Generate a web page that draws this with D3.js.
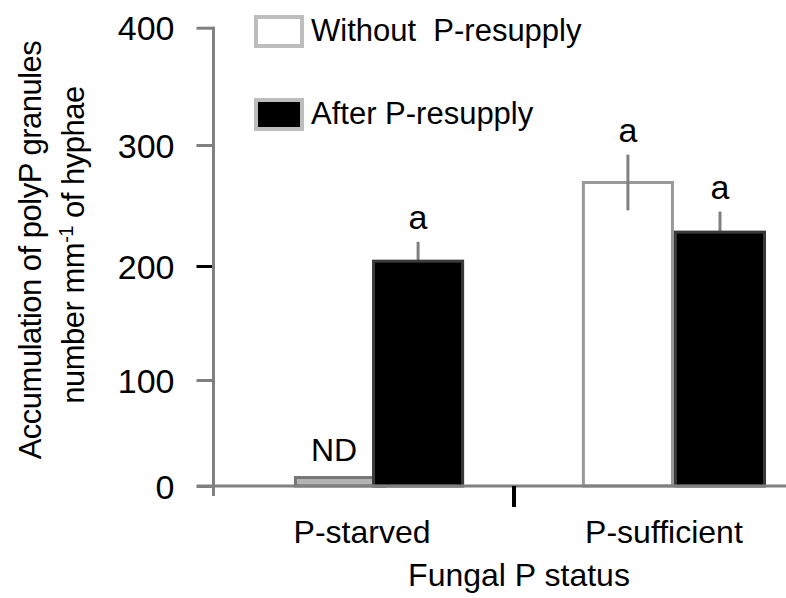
<!DOCTYPE html>
<html>
<head>
<meta charset="utf-8">
<script src="https://cdn.jsdelivr.net/npm/d3@7"></script>
<style>
  html, body { margin: 0; padding: 0; background: #fff; }
  svg { display: block; }
  text { font-family: Arial, "Liberation Sans", sans-serif; fill: #000; }
</style>
</head>
<body>
<svg id="chart" width="786" height="598"></svg>
<script>
// ---- data ----
const categories = ["P-starved", "P-sufficient"];
const seriesNames = ["Without  P-resupply", "After P-resupply"];
const withoutValues = [8, 269];      // P-starved is ND (not detected)
const withoutErrors = [0, 23];
const afterValues = [204, 228];
const afterErrors = [16, 17];
const withoutLabels = ["ND", "a"];
const afterLabels = ["a", "a"];
const yTicks = [0, 100, 200, 300, 400];
const xTitle = "Fungal P status";
const yTitle1 = "Accumulation of polyP granules";
const yTitle2 = "number mm";

const svg = d3.select("#chart");

// scanned figure has slightly uneven tick spacing -> polylinear scale
const y = d3.scaleLinear().domain(yTicks).range([486, 380, 266, 145, 27.7]);
const x0 = d3.scaleBand().domain(categories).range([214, 832]).paddingInner(0.39).paddingOuter(0.2185);
const x1 = d3.scaleBand().domain(seriesNames).range([0, x0.bandwidth()]).padding(0);

const axisGray = "#808080";

// ---- y axis ----
const yAxis = d3.axisLeft(y).tickValues(yTicks).tickSize(17).tickPadding(22).tickFormat(d3.format("d"));
const gy = svg.append("g").attr("transform", "translate(213.5,0)").call(yAxis);
gy.select(".domain").remove();
gy.selectAll(".tick line").attr("stroke", d => d === 200 ? "#000" : axisGray).attr("stroke-width", 3);
gy.selectAll(".tick text").attr("font-size", 34).attr("font-family", "Arial, 'Liberation Sans', sans-serif").attr("dy", "0.36em");
svg.append("line").attr("x1", 213.5).attr("x2", 213.5).attr("y1", y(400) - 1).attr("y2", y(0) + 10)
  .attr("stroke", axisGray).attr("stroke-width", 3);

// ---- bars ----
const rows = categories.map((c, i) => ({
  cat: c,
  bars: [
    { s: seriesNames[0], v: withoutValues[i], e: withoutErrors[i], lab: withoutLabels[i] },
    { s: seriesNames[1], v: afterValues[i], e: afterErrors[i], lab: afterLabels[i] }
  ]
}));

const groups = svg.append("g").selectAll("g").data(rows).join("g")
  .attr("transform", d => `translate(${x0(d.cat)},0)`);

groups.each(function(d, i) {
  const g = d3.select(this);
  d.bars.forEach((b, j) => {
    const bw = x1.bandwidth();
    const nd = b.lab === "ND";
    const bx = x1(b.s) + (nd ? 14 : 0);
    g.append("rect")
      .attr("x", bx + 1.5).attr("y", y(b.v)).attr("width", bw - 3).attr("height", y(0) - y(b.v))
      .attr("fill", j === 0 ? (nd ? "#b4b4b4" : "#fff") : "#000")
      .attr("stroke", j === 0 ? (nd ? "#777" : "#999") : "#3a3a3a")
      .attr("stroke-width", 3);
    if (b.e > 0) {
      const cx = bx + bw / 2;
      g.append("line")
        .attr("x1", cx).attr("x2", cx)
        .attr("y1", j === 0 ? y(b.v - b.e) : y(b.v))
        .attr("y2", y(b.v + b.e))
        .attr("stroke", axisGray).attr("stroke-width", 3);
    }
    g.append("text")
      .attr("x", bx + bw / 2 + (nd ? -6 : 0))
      .attr("y", nd ? y(0) - 25 : y(b.v + b.e) - 13)
      .attr("text-anchor", "middle")
      .attr("font-size", nd ? 32 : 34)
      .text(b.lab);
  });
});
// black bars drawn on top of the ND bar
groups.each(function() {
  const g = d3.select(this);
  g.selectAll("rect").filter(function(_, k) { return k === 1; }).raise();
});

// ---- x axis ----
svg.append("line").attr("x1", 197).attr("x2", 786).attr("y1", y(0)).attr("y2", y(0))
  .attr("stroke", axisGray).attr("stroke-width", 3);
const midX = (x0(categories[0]) + x0.bandwidth() + x0(categories[1])) / 2 - 9;
svg.append("line").attr("x1", midX).attr("x2", midX).attr("y1", y(0)).attr("y2", y(0) + 21)
  .attr("stroke", "#000").attr("stroke-width", 4);

svg.append("g").selectAll("text").data(categories).join("text")
  .attr("x", d => x0(d) + x0.bandwidth() / 2 - 10)
  .attr("y", 543)
  .attr("text-anchor", "middle")
  .attr("font-size", 32)
  .text(d => d);

svg.append("text").attr("x", 519).attr("y", 586).attr("text-anchor", "middle")
  .attr("font-size", 32).text(xTitle);

// ---- y title ----
const yt = svg.append("g");
yt.append("text").attr("transform", "translate(41,250) rotate(-90)")
  .attr("text-anchor", "middle").attr("font-size", 31).attr("letter-spacing", -0.5).text(yTitle1);
const t2 = yt.append("text").attr("transform", "translate(84,245) rotate(-90)")
  .attr("text-anchor", "middle").attr("font-size", 31).attr("letter-spacing", -0.5);
t2.append("tspan").text(yTitle2);
t2.append("tspan").attr("dy", -11).attr("font-size", 20).text("-1");
t2.append("tspan").attr("dy", 11).text(" of hyphae");

// ---- legend ----
const legend = svg.append("g");
seriesNames.forEach((s, i) => {
  const ly = 15 + i * 83;
  legend.append("rect").attr("x", 256).attr("y", ly + 2).attr("width", 46).attr("height", 29)
    .attr("fill", i === 0 ? "#fff" : "#000").attr("stroke", "#bdbdbd").attr("stroke-width", 4);
  legend.append("text").attr("x", 311).attr("y", ly + 26).attr("font-size", 31)
    .style("white-space", "pre").attr("xml:space", "preserve").text(s);
});
</script>
</body>
</html>
